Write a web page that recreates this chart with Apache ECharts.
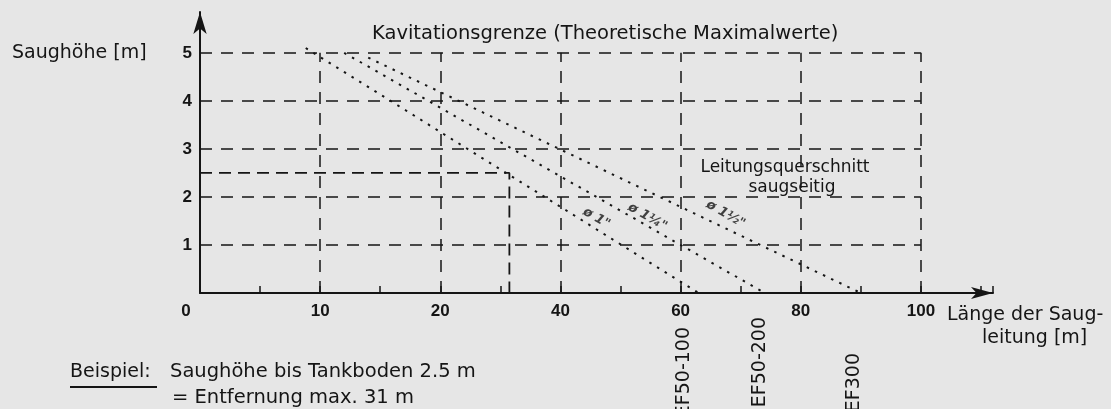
<!DOCTYPE html>
<html lang="de">
<head>
<meta charset="utf-8"/>
<title>Saughöhe</title>
<script src="https://cdn.jsdelivr.net/npm/echarts@6/dist/echarts.min.js"></script>
<style>
html, body { margin: 0; padding: 0; background: #e6e6e6; }
#chart { width: 1111px; height: 409px; }
</style>
</head>
<body>
<div id="chart"></div>
<script>
var xTicks = [0, 10, 20, 40, 60, 80, 100];
var yTicks = [1, 2, 3, 4, 5];

var ef50_100Len = [8.8, 63];
var ef50_100H = [5.1, 0];
var ef50_200Len = [12, 74];
var ef50_200H = [5.0, 0];
var ef300Len = [14, 90];
var ef300H = [4.9, 0];

// Beispiel: 2.5 m Saughöhe -> max. 31 m
var exampleLen = [0, 31.5, 31.5];
var exampleH = [2.5, 2.5, 0];

var pipeLabels = ['ø 1"', 'ø 1¼"', 'ø 1½"'];
var pipeLabelLen = [46, 54.5, 67.5];
var pipeLabelH = [1.56, 1.58, 1.64];

var pumpNames = ['EF50-100', 'EF50-200', 'EF300'];
var pumpLen = [60.5, 73.3, 88.8];

// x-Achse ist bei 20 m gestaucht: 0-20 in 10er, danach 20er Schritte
function toAxis(len) {
    return len <= 20 ? len : 20 + (len - 20) / 2;
}
function fromAxis(v) {
    return v <= 20 ? v : 20 + (v - 20) * 2;
}
function pts(lens, hs) {
    var out = [];
    for (var i = 0; i < lens.length; i++) {
        out.push([toAxis(lens[i]), hs[i]]);
    }
    return out;
}

var ink = '#151515';
var font = 'DejaVu Sans';

var gridLines = [];
for (var i = 0; i < yTicks.length; i++) {
    gridLines.push({coords: [[0, yTicks[i]], [toAxis(100), yTicks[i]]]});
}
for (var j = 1; j < xTicks.length; j++) {
    gridLines.push({coords: [[toAxis(xTicks[j]), 0], [toAxis(xTicks[j]), 5]]});
}

var pipeStyle = {color: ink, width: 2, type: [2.5, 6.5]};

var labelData = [];
for (var k = 0; k < pipeLabels.length; k++) {
    labelData.push({value: [toAxis(pipeLabelLen[k]), pipeLabelH[k]], name: pipeLabels[k]});
}

var myChart = echarts.init(document.getElementById('chart'));
var option = {
    backgroundColor: '#e6e6e6',
    animation: false,
    grid: {left: 200, right: 118, top: 12, bottom: 116},
    xAxis: {
        type: 'value',
        min: 0,
        max: 66,
        interval: 5,
        splitLine: {show: false},
        axisLine: {
            lineStyle: {color: ink, width: 2},
            symbol: ['none', 'arrow'],
            symbolSize: [9, 22]
        },
        axisTick: {inside: true, length: 7, lineStyle: {color: ink, width: 1.5}},
        axisLabel: {
            color: ink,
            fontFamily: 'Liberation Sans',
            fontWeight: 'bold',
            fontSize: 17,
            margin: 10,
            formatter: function (v) {
                if (v % 10 !== 0 || v > 60) return '';
                if (v === 0) return '{o|0}';
                return String(fromAxis(v));
            },
            rich: {o: {fontFamily: 'Liberation Sans', fontWeight: 'bold', fontSize: 17, color: ink, padding: [0, 28, 0, 0]}}
        }
    },
    yAxis: {
        type: 'value',
        min: 0,
        max: 5.85,
        interval: 1,
        splitLine: {show: false},
        axisLine: {
            lineStyle: {color: ink, width: 2},
            symbol: ['none', 'arrow'],
            symbolSize: [10, 22]
        },
        axisTick: {show: false},
        axisLabel: {
            color: ink,
            fontFamily: 'Liberation Sans',
            fontWeight: 'bold',
            fontSize: 17,
            margin: 8,
            formatter: function (v) {
                return (v > 0 && v <= 5 && v % 1 === 0) ? String(v) : '';
            }
        }
    },
    series: [
        {
            type: 'lines',
            coordinateSystem: 'cartesian2d',
            silent: true,
            lineStyle: {color: ink, width: 1.5, type: [12, 9], opacity: 1},
            data: gridLines
        },
        {type: 'line', symbol: 'none', data: pts(ef50_100Len, ef50_100H), lineStyle: pipeStyle},
        {type: 'line', symbol: 'none', data: pts(ef50_200Len, ef50_200H), lineStyle: pipeStyle},
        {type: 'line', symbol: 'none', data: pts(ef300Len, ef300H), lineStyle: pipeStyle},
        {
            type: 'line', symbol: 'none',
            data: pts(exampleLen, exampleH),
            lineStyle: {color: ink, width: 1.8, type: [12, 7]}
        },
        {
            type: 'scatter',
            symbolSize: 0,
            data: labelData,
            label: {
                show: true,
                position: 'inside',
                rotate: -30,
                color: ink,
                fontFamily: font,
                fontStyle: 'italic',
                fontWeight: 'bold',
                fontSize: 13,
                formatter: function (p) { return p.name; }
            }
        }
    ],
    graphic: [
        {type: 'text', left: 12, top: 44, style: {text: 'Saughöhe [m]', font: '19px "DejaVu Sans"', fill: ink}},
        {type: 'text', left: 372, top: 24, style: {text: 'Kavitationsgrenze (Theoretische Maximalwerte)', font: '19.5px "DejaVu Sans"', fill: ink}},
        {type: 'text', x: 785, y: 168, style: {text: 'Leitungsquerschnitt', font: '17px "DejaVu Sans"', fill: ink, align: 'center', verticalAlign: 'middle'}},
        {type: 'text', x: 792, y: 188, style: {text: 'saugseitig', font: '17px "DejaVu Sans"', fill: ink, align: 'center', verticalAlign: 'middle'}},
        {type: 'text', x: 947, y: 315, style: {text: 'Länge der Saug-', font: '19px "DejaVu Sans"', fill: ink, verticalAlign: 'middle'}},
        {type: 'text', x: 982, y: 338, style: {text: 'leitung [m]', font: '19px "DejaVu Sans"', fill: ink, verticalAlign: 'middle'}},
        {type: 'text', x: 70, y: 372, style: {text: 'Beispiel:', font: '19px "DejaVu Sans"', fill: ink, verticalAlign: 'middle'}},
        {type: 'line', shape: {x1: 70, y1: 387, x2: 157, y2: 387}, style: {stroke: ink, lineWidth: 2}},
        {type: 'text', x: 170, y: 372, style: {text: 'Saughöhe bis Tankboden 2.5 m', font: '19.5px "DejaVu Sans"', fill: ink, verticalAlign: 'middle'}},
        {type: 'text', x: 172, y: 398, style: {text: '= Entfernung max. 31 m', font: '19.5px "DejaVu Sans"', fill: ink, verticalAlign: 'middle'}}
    ]
};
myChart.setOption(option);

// Pumpenbezeichnungen senkrecht unter den Kurvenenden
var pumpTop = [34, 24, 60];
var pumpGraphics = [];
for (var n = 0; n < pumpNames.length; n++) {
    var p = myChart.convertToPixel({gridIndex: 0}, [toAxis(pumpLen[n]), 0]);
    pumpGraphics.push({
        type: 'text',
        x: p[0],
        y: p[1] + pumpTop[n],
        rotation: Math.PI / 2,
        style: {text: pumpNames[n], font: '19px "DejaVu Sans"', fill: ink, align: 'right', verticalAlign: 'middle'}
    });
}
myChart.setOption({graphic: option.graphic.concat(pumpGraphics)});
</script>
</body>
</html>
